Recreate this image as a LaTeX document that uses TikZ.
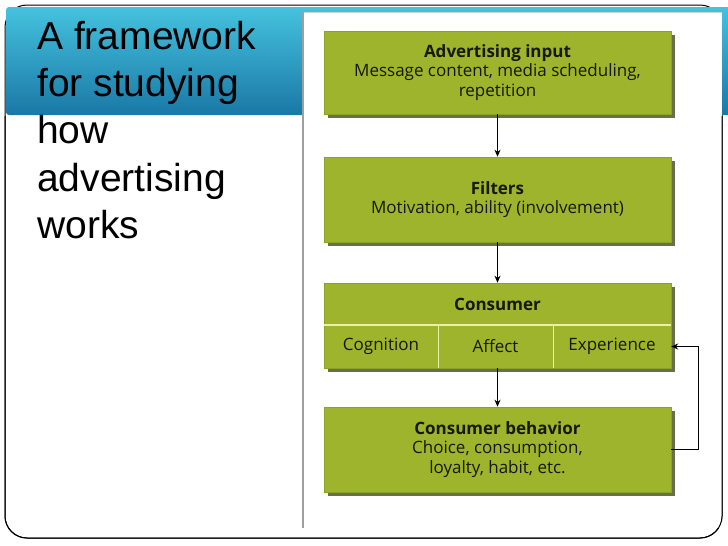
\documentclass[tikz,border=0pt]{standalone}
\usepackage{fontspec}
\setmainfont{Liberation Sans}
\newfontfamily\boxfont{Open Sans}
\usetikzlibrary{arrows.meta,shadows}
\definecolor{grn}{HTML}{9DB42C}
\definecolor{grnedge}{HTML}{8CA126}
\definecolor{shd}{HTML}{4E5632}
\definecolor{divc}{HTML}{E9F1A6}
\definecolor{blueT}{HTML}{45C2DE}
\definecolor{blueB}{HTML}{1A78A6}
\definecolor{txt}{HTML}{161808}
\tikzset{
  gbox/.style={fill=grn, draw=grnedge, line width=0.6pt, minimum width=347pt,
    inner sep=0pt, align=center, text=txt,
    font=\boxfont\fontsize{17}{19.5}\selectfont,
    drop shadow={shadow xshift=4pt, shadow yshift=-4pt, fill=shd, opacity=0.85}},
  cell/.style={minimum height=43pt, inner sep=0pt, text=txt,
    font=\boxfont\fontsize{17}{19.5}\selectfont},
  divline/.style={draw=divc, line width=1.4pt},
  arr/.style={draw=black, line width=0.8pt, -{Stealth[length=7pt,width=6pt]}},
  fb/.style={draw=black, line width=1.3pt, -{Stealth[length=7pt,width=6pt]}},
  title/.style={anchor=north west, inner sep=0pt, align=left, text=black,
    font=\fontsize{39}{47.2}\selectfont}
}
\begin{document}
\begin{tikzpicture}[x=1pt,y=-1pt]
\useasboundingbox (0,0) rectangle (728,546);
\fill[white] (0,0) rectangle (728,546);
% slide outline
\draw[black, line width=1pt, rounded corners=22pt] (5,5) rectangle (722,538);
% header bar
\shade[top color=blueT, bottom color=blueB, rounded corners=3pt] (6,7) rectangle (731,115);
% picture area
\fill[white] (303,12) rectangle (722,528);
\draw[gray!35, line width=0.6pt] (303,12) -- (722,12);
\draw[gray!75, line width=1.3pt] (303,12) -- (303,528);
\begin{scope}
\clip (0,116) rectangle (728,546);
\draw[black, line width=1pt, rounded corners=22pt] (5,5) rectangle (722,538);
\end{scope}
% title
\node[title] (ttl) at (37,21) {A framework\\for studying\\how\\advertising\\works};
% boxes
\node[gbox, minimum height=83pt] (adv) at (497.5,72.5)
  {\textbf{Advertising input}\\Message content, media scheduling,\\repetition};
\node[gbox, minimum height=85pt] (fil) at (497.5,199.5)
  {\textbf{Filters}\\Motivation, ability (involvement)};
\node[gbox, minimum height=85pt] (cons) at (497.5,325.5) {};
\node[cell, minimum width=347pt, minimum height=42pt] (consl) at (497.5,304) {\textbf{Consumer}};
\node[cell, minimum width=114pt] (cog) at (381,346.5) {Cognition};
\node[cell, minimum width=115pt] (aff) at (495.5,346.5) {Affect};
\node[cell, minimum width=118pt] (exp) at (612,346.5) {Experience};
\draw[divline] (cog.north west) -- (exp.north east);
\draw[divline] (cog.north east) -- (cog.south east);
\draw[divline] (aff.north east) -- (aff.south east);
\node[gbox, minimum height=85pt] (beh) at (497.5,449.5)
  {\textbf{Consumer behavior}\\Choice, consumption,\\loyalty, habit, etc.};
% connectors
\draw[arr] (adv) -- (fil);
\draw[arr] (fil) -- (cons);
\draw[arr] (cons) -- (beh);
\draw[fb] (beh.east) -- ++(27,0) |- (exp.east);
\end{tikzpicture}
\end{document}
